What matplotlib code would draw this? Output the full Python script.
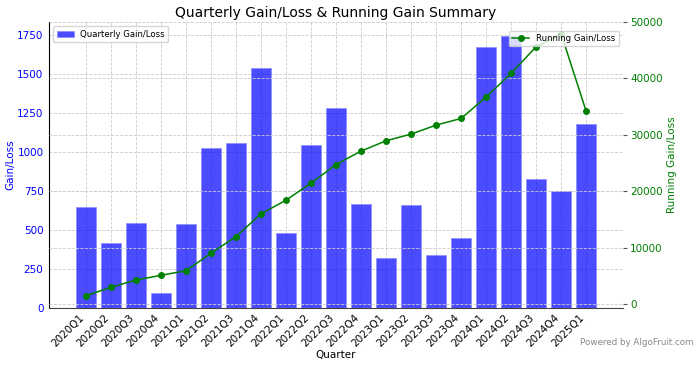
import matplotlib.pyplot as plt
import numpy as np

# Quarterly data
quarters = ["2020Q1", "2020Q2", "2020Q3", "2020Q4", "2021Q1", "2021Q2", "2021Q3",
            "2021Q4", "2022Q1", "2022Q2", "2022Q3", "2022Q4", "2023Q1", "2023Q2",
            "2023Q3", "2023Q4", "2024Q1", "2024Q2", "2024Q3", "2024Q4", "2025Q1"]
gain_loss = [649, 415, 543, 94, 538, 1026, 1058, 1540, 481, 1043, 1282,
             667, 320, 658, 340, 447, 1677, 1747, 831, 748, 1184]
running = [1480, 2960, 4260, 5090, 5920, 9000, 11960, 15980, 18420, 21430, 24740,
           27120, 28950, 30140, 31730, 32910, 36710, 40900, 45640, 47900, 34150]

fig = plt.figure(figsize=(7, 3.68), dpi=100)
ax1 = fig.add_axes([0.07, 0.163, 0.82, 0.777])

x = np.arange(len(quarters))
ax1.bar(x, gain_loss, width=0.8, color="blue", alpha=0.7, edgecolor="#8888ff",
        linewidth=0.6, label="Quarterly Gain/Loss", zorder=2)
ax1.set_ylabel("Gain/Loss", color="blue", fontsize=7.5, labelpad=1)
ax1.set_xlabel("Quarter", fontsize=7.5, labelpad=1)
ax1.tick_params(axis="y", labelcolor="blue", labelsize=7.5, length=0, pad=4)
ax1.set_xticks(x)
ax1.set_xticklabels(quarters, rotation=45, ha="right", fontsize=7.5)
ax1.tick_params(axis="x", length=0, pad=3)
ax1.set_xlim(-1.47, len(quarters) + 0.47)
ax1.set_ylim(0, 1835)
ax1.grid(True, linestyle="--", color="#cccccc", linewidth=0.6, zorder=0)
ax1.set_axisbelow(True)
ax1.spines["top"].set_visible(False)
ax1.spines["right"].set_visible(False)
ax1.spines["bottom"].set_color("#444444")
ax1.legend(loc="upper left", fontsize=6.1)

ax2 = ax1.twinx()
ax2.plot(x, running, color="green", marker="o", markersize=4, linewidth=1.1,
         label="Running Gain/Loss")
ax2.set_ylabel("Running Gain/Loss", color="green", fontsize=7.5, labelpad=3)
ax2.tick_params(axis="y", labelcolor="green", labelsize=7.5, length=3,
                color="#555555", pad=2)
ax2.set_ylim(-700, 50000)
ax2.set_yticks([0, 10000, 20000, 30000, 40000, 50000])
ax2.grid(True, axis="y", linestyle="--", color="#cccccc", linewidth=0.6)
for s in ["top", "right", "left", "bottom"]:
    ax2.spines[s].set_visible(False)
ax2.legend(loc="upper right", fontsize=6.1, bbox_to_anchor=(1.0, 0.985))

ax1.set_title("Quarterly Gain/Loss & Running Gain Summary", fontsize=10, pad=4)
fig.text(0.99, 0.068, "Powered by AlgoFruit.com", ha="right", va="center",
         fontsize=6.3, color="#888888")

fig.savefig("out.png", dpi=100)
